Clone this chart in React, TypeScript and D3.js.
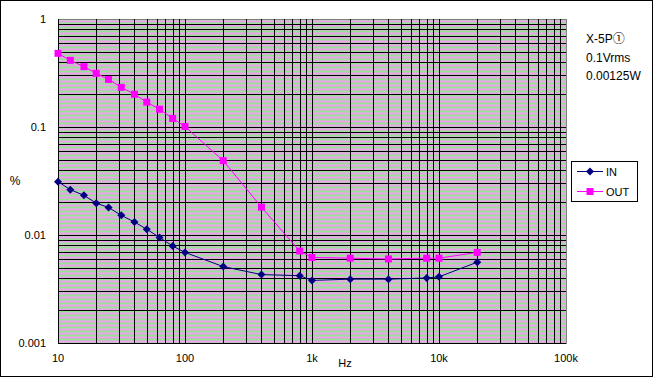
import React, { useRef, useEffect } from "react";
import * as d3 from "d3";

// frequencies (Hz) of the measured points
const freqs = [10, 12.5, 16, 20, 25, 31.5, 40, 50, 63, 80, 100, 200, 400, 800, 1000, 2000, 4000, 8000, 10000, 20000];
// distortion (%) for each series
const inVals = [0.0312, 0.0263, 0.0233, 0.0197, 0.018, 0.0152, 0.0132, 0.0113, 0.0095, 0.0079, 0.0069, 0.0051, 0.0043, 0.0042, 0.0038, 0.0039, 0.0039, 0.004, 0.0041, 0.0056];
const outVals = [0.481, 0.414, 0.362, 0.314, 0.276, 0.233, 0.201, 0.17, 0.146, 0.12, 0.101, 0.0488, 0.0181, 0.0071, 0.0062, 0.0061, 0.006, 0.0061, 0.0061, 0.0069];

const xTicks = [10, 100, 1000, 10000, 100000];
const xTickLabels = ["10", "100", "1k", "10k", "100k"];
const yTicks = [1, 0.1, 0.01, 0.001];
const yTickLabels = ["1", "0.1", "0.01", "0.001"];
const notes = ["X-5P", "0.1Vrms", "0.00125W"];

const App = () => {
  const container = useRef(null);

  const width = 653;
  const height = 377;

  useEffect(() => {
    document.body.style.margin = "0";
    const svg = d3.select(container.current);
    svg.selectAll("*").remove();

    const font = "'Liberation Sans', Arial, sans-serif";

    // dithered background pattern (gray / pink / green pixels)
    const defs = svg.append("defs");
    const pat = defs
      .append("pattern")
      .attr("id", "dither")
      .attr("patternUnits", "userSpaceOnUse")
      .attr("width", 4)
      .attr("height", 4);
    for (let i = 0; i < 4; i++) {
      for (let j = 0; j < 4; j++) {
        let c = "#c0c0c0";
        if ((i + j) % 2 === 1) c = (i % 2 === 0) === (j < 2) ? "#f49cf4" : "#98e898";
        pat.append("rect").attr("x", i).attr("y", j).attr("width", 1).attr("height", 1).attr("fill", c);
      }
    }

    svg
      .append("rect")
      .attr("x", 0.5)
      .attr("y", 0.5)
      .attr("width", width - 1)
      .attr("height", height - 1)
      .attr("fill", "white")
      .attr("stroke", "black");

    const xScale = d3.scaleLog().domain([10, 100000]).range([58, 566]);
    const yScale = d3.scaleLog().domain([0.001, 1]).range([343, 19]);

    const px = (v) => Math.round(v) + 0.5;

    svg
      .append("rect")
      .attr("x", px(xScale(10)))
      .attr("y", px(yScale(1)))
      .attr("width", Math.round(xScale(100000)) - Math.round(xScale(10)))
      .attr("height", Math.round(yScale(0.001)) - Math.round(yScale(1)))
      .attr("fill", "url(#dither)")
      .attr("stroke", "#808080");

    // grid values 1..9 per decade
    const xGrid = [];
    for (let d = 10; d < 100000; d *= 10) for (let k = 1; k <= 9; k++) xGrid.push(d * k);
    const yGrid = [];
    for (let d = 0.001; d < 0.999; d *= 10) for (let k = 1; k <= 9; k++) yGrid.push(d * k);

    const grid = svg.append("g").attr("stroke", "black").attr("shape-rendering", "crispEdges");
    grid
      .selectAll("line.v")
      .data(xGrid)
      .enter()
      .append("line")
      .attr("x1", (d) => px(xScale(d)))
      .attr("x2", (d) => px(xScale(d)))
      .attr("y1", yScale(1))
      .attr("y2", yScale(0.001));
    grid
      .selectAll("line.h")
      .data(yGrid)
      .enter()
      .append("line")
      .attr("y1", (d) => px(yScale(d)))
      .attr("y2", (d) => px(yScale(d)))
      .attr("x1", xScale(10))
      .attr("x2", xScale(100000));

    // axis labels
    svg
      .append("g")
      .selectAll("text")
      .data(yTicks)
      .enter()
      .append("text")
      .attr("x", 46)
      .attr("y", (d) => yScale(d) + 4)
      .attr("text-anchor", "end")
      .style("font-family", font)
      .style("font-size", "11px")
      .text((d, i) => yTickLabels[i]);

    svg
      .append("g")
      .selectAll("text")
      .data(xTicks)
      .enter()
      .append("text")
      .attr("x", (d) => xScale(d))
      .attr("y", 362)
      .attr("text-anchor", "middle")
      .style("font-family", font)
      .style("font-size", "11px")
      .text((d, i) => xTickLabels[i]);

    svg
      .append("text")
      .attr("x", 345)
      .attr("y", 367)
      .attr("text-anchor", "middle")
      .style("font-family", font)
      .style("font-size", "11px")
      .text("Hz");

    svg
      .append("text")
      .attr("x", 15)
      .attr("y", 185)
      .attr("text-anchor", "middle")
      .style("font-family", font)
      .style("font-size", "12px")
      .text("%");

    // series
    const series = [
      { name: "IN", vals: inVals, color: "#000080", shape: "diamond" },
      { name: "OUT", vals: outVals, color: "#ff00ff", shape: "square" },
    ];

    const line = d3
      .line()
      .x((d) => xScale(d[0]))
      .y((d) => yScale(d[1]));

    const diamond = "M0,-4L4,0L0,4L-4,0Z";

    series.forEach((s) => {
      const pts = freqs.map((f, i) => [f, s.vals[i]]);
      svg
        .append("path")
        .attr("d", line(pts))
        .attr("fill", "none")
        .attr("stroke", s.color)
        .attr("stroke-width", 1);
      const g = svg.append("g").attr("fill", s.color);
      if (s.shape === "diamond") {
        g.selectAll("path")
          .data(pts)
          .enter()
          .append("path")
          .attr("d", diamond)
          .attr("transform", (d) => `translate(${xScale(d[0])},${yScale(d[1])})`);
      } else {
        g.selectAll("rect")
          .data(pts)
          .enter()
          .append("rect")
          .attr("x", (d) => xScale(d[0]) - 3.5)
          .attr("y", (d) => yScale(d[1]) - 3.5)
          .attr("width", 7)
          .attr("height", 7);
      }
    });

    // legend
    const legend = svg.append("g").attr("transform", "translate(571, 161)");
    legend
      .append("rect")
      .attr("x", 0.5)
      .attr("y", 0.5)
      .attr("width", 66)
      .attr("height", 40)
      .attr("fill", "white")
      .attr("stroke", "black");
    series.forEach((s, i) => {
      const ly = 10.5 + i * 20;
      legend
        .append("line")
        .attr("x1", 6)
        .attr("x2", 32)
        .attr("y1", ly)
        .attr("y2", ly)
        .attr("stroke", s.color);
      if (s.shape === "diamond") {
        legend.append("path").attr("d", diamond).attr("transform", `translate(19,${ly})`).attr("fill", s.color);
      } else {
        legend.append("rect").attr("x", 15.5).attr("y", ly - 3.5).attr("width", 7).attr("height", 7).attr("fill", s.color);
      }
      legend
        .append("text")
        .attr("x", 35)
        .attr("y", ly + 4)
        .style("font-family", font)
        .style("font-size", "11px")
        .text(s.name);
    });

    // notes at top right
    const noteText = svg
      .append("g")
      .selectAll("text")
      .data(notes)
      .enter()
      .append("text")
      .attr("x", 586)
      .attr("y", (d, i) => 43 + i * 18.5)
      .style("font-family", font)
      .style("font-size", "12px")
      .text((d) => d);
    noteText
      .filter((d, i) => i === 0)
      .append("tspan")
      .style("font-family", "'Noto Sans CJK JP', sans-serif")
      .style("font-size", "12px")
      .text("①");
  }, []);

  return (
    <div style={{ width: width, height: height }}>
      <svg ref={container} width={width} height={height} style={{ display: "block" }} />
    </div>
  );
};

export default App;
